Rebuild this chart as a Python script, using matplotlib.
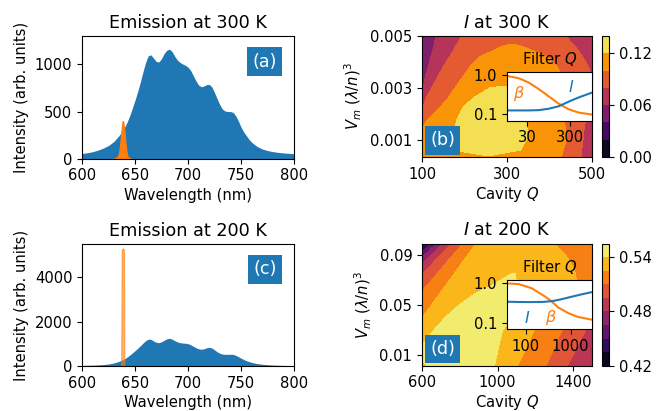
import numpy as np
import matplotlib
matplotlib.use("Agg")
import matplotlib.pyplot as plt
import matplotlib.tri as mtri

plt.rcParams['font.size'] = 10.6
plt.rcParams['font.family'] = ['DejaVu Sans']

BLUE = '#1f77b4'
ORANGE = '#ff7f0e'

# ---------------- emission spectra ----------------
wl = [600, 605, 610, 615, 620, 625, 630, 635, 640, 642.5, 645, 647.5, 650, 652.5,
      655, 657.5, 660, 662.5, 665, 667.5, 670, 672.5, 675, 677.5, 680, 682.5, 685,
      687.5, 690, 692.5, 695, 697.5, 700, 702.5, 705, 707.5, 710, 712.5, 715, 717.5,
      720, 722.5, 725, 727.5, 730, 732.5, 735, 737.5, 740, 742.5, 745, 747.5, 750,
      752.5, 755, 757.5, 760, 765, 770, 775, 780, 785, 790, 795, 800]
em300 = [55, 63, 74, 90, 112, 140, 182, 245, 330, 385, 455, 535, 620, 710,
         810, 920, 1020, 1090, 1100, 1065, 1030, 1025, 1060, 1115, 1150, 1160, 1135,
         1085, 1045, 1020, 1003, 990, 970, 935, 880, 825, 780, 762, 770, 785,
         787, 760, 700, 635, 572, 525, 505, 500, 500, 490, 455, 400, 335,
         285, 245, 205, 175, 130, 103, 86, 75, 67, 61, 57, 53]
em200 = [28, 33, 40, 50, 65, 90, 135, 210, 320, 400, 490, 590, 690, 800,
         910, 1030, 1140, 1210, 1200, 1130, 1070, 1050, 1090, 1160, 1225, 1250, 1210,
         1140, 1085, 1050, 1035, 1025, 1005, 960, 890, 825, 775, 755, 775, 820,
         845, 810, 730, 640, 575, 535, 525, 525, 530, 525, 480, 420, 355,
         295, 240, 200, 165, 110, 78, 58, 45, 35, 28, 22, 18]

filt300_wl = [630, 632, 634, 635, 636, 637, 638, 638.5, 639, 640, 641, 642, 643, 644, 646]
filt300 = [0, 5, 30, 70, 150, 280, 380, 400, 385, 300, 170, 75, 25, 8, 0]
filt200_wl = [637.0, 637.4, 638.5, 639.6, 640.0]
filt200 = [0, 5250, 5300, 5250, 0]

# ---------------- contour maps: digitised (Q, I) samples along rows of V ----------------
V_b = [0.00033, 0.0006, 0.001, 0.0014, 0.0018, 0.0022, 0.0026, 0.003, 0.0034,
       0.0038, 0.0042, 0.0046, 0.005]
rows_b = [
    [(100, 0.104), (255.3, 0.119), (427.8, 0.10), (474.9, 0.08), (500, 0.069)],
    [(100, 0.104), (171.1, 0.12), (255.3, 0.126), (332.3, 0.12), (432.5, 0.10), (475.7, 0.08), (500, 0.070)],
    [(100, 0.103), (170.7, 0.12), (255.3, 0.129), (345.5, 0.12), (439.6, 0.10), (478.8, 0.08), (500, 0.0705)],
    [(100, 0.1015), (175.5, 0.12), (263.1, 0.129), (347.3, 0.12), (437.2, 0.10), (481.3, 0.08), (500, 0.0715)],
    [(100, 0.086), (114.4, 0.10), (183, 0.12), (271, 0.128), (344.4, 0.12), (435.4, 0.10), (485.6, 0.08), (500, 0.075)],
    [(100, 0.079), (100.8, 0.08), (139.5, 0.10), (194.7, 0.12), (278.8, 0.127), (338.2, 0.12), (434.9, 0.10), (493, 0.08), (500, 0.078)],
    [(100, 0.067), (109.6, 0.08), (161.3, 0.10), (219.5, 0.12), (286.7, 0.1245), (330, 0.12), (434.3, 0.10), (500, 0.080)],
    [(100, 0.057), (102.4, 0.06), (122.7, 0.08), (177.8, 0.10), (259.7, 0.12), (290.6, 0.121), (315.5, 0.12), (431.8, 0.10), (500, 0.081)],
    [(100, 0.0555), (107.6, 0.06), (136.2, 0.08), (194.9, 0.10), (294.5, 0.115), (429.1, 0.10), (500, 0.080)],
    [(100, 0.052), (114.7, 0.06), (149.7, 0.08), (212.4, 0.10), (298.4, 0.111), (419, 0.10), (492.2, 0.08), (500, 0.079)],
    [(100, 0.0405), (121.2, 0.06), (164.9, 0.08), (235.8, 0.10), (302.4, 0.107), (394.5, 0.10), (477.9, 0.08), (500, 0.077)],
    [(100, 0.039), (101.5, 0.04), (127.4, 0.06), (179.3, 0.08), (288.5, 0.10), (310.2, 0.1012), (336, 0.10), (460.3, 0.08), (500, 0.074)],
    [(100, 0.0374), (103.8, 0.04), (133.3, 0.06), (193.3, 0.08), (318, 0.096), (437.3, 0.08), (500, 0.072)],
]
levels_b = [0.0, 0.02, 0.04, 0.06, 0.08, 0.10, 0.12, 0.1437]
cticks_b = [0.00, 0.06, 0.12]

V_d = [0.0015, 0.01, 0.02, 0.03, 0.04, 0.05, 0.06, 0.065, 0.07, 0.075, 0.08,
       0.085, 0.09, 0.095, 0.1]
rows_d = [
    [(600, 0.539), (771.9, 0.545), (984.2, 0.54), (1105.3, 0.525), (1256.1, 0.51), (1368.4, 0.495), (1500, 0.481)],
    [(600, 0.5415), (771.9, 0.547), (996.5, 0.54), (1133.3, 0.525), (1282.5, 0.51), (1400, 0.495), (1500, 0.4835)],
    [(600, 0.5395), (610.4, 0.54), (807, 0.549), (1010.5, 0.54), (1163.2, 0.525), (1312.3, 0.51), (1431.6, 0.495), (1500, 0.4885)],
    [(600, 0.5313), (663.2, 0.54), (859.6, 0.55), (1026.3, 0.54), (1194.7, 0.525), (1342.1, 0.51), (1466.7, 0.495), (1500, 0.4925)],
    [(600, 0.5248), (721.9, 0.54), (912.3, 0.55), (1078.9, 0.54), (1245.6, 0.525), (1403.5, 0.51), (1500, 0.499)],
    [(600, 0.5183), (650, 0.525), (796, 0.54), (964.9, 0.548), (1105.3, 0.54), (1298.2, 0.525), (1473.7, 0.51), (1500, 0.5065)],
    [(600, 0.5108), (698.1, 0.525), (890.4, 0.54), (1026.3, 0.545), (1122.8, 0.54), (1377.2, 0.525), (1500, 0.5115)],
    [(600, 0.5057), (623, 0.51), (722.1, 0.525), (963.7, 0.54), (1035, 0.542), (1105.3, 0.54), (1403.5, 0.525), (1500, 0.515)],
    [(600, 0.5001), (651.4, 0.51), (746.1, 0.525), (1105.3, 0.5398), (1417.5, 0.525), (1500, 0.5175)],
    [(600, 0.4938), (604.6, 0.495), (679.6, 0.51), (770.2, 0.525), (1122.8, 0.5395), (1412.3, 0.525), (1500, 0.518)],
    [(600, 0.4852), (635.8, 0.495), (707.9, 0.51), (794.2, 0.525), (1122.8, 0.539), (1400, 0.525), (1500, 0.5185)],
    [(600, 0.4739), (614.9, 0.48), (666.8, 0.495), (736.1, 0.51), (818.2, 0.525), (1114, 0.538), (1382.5, 0.525), (1500, 0.519)],
    [(600, 0.4584), (612.8, 0.465), (648.9, 0.48), (697.9, 0.495), (764.6, 0.51), (842.3, 0.525), (1105.3, 0.537), (1359.6, 0.525), (1500, 0.5175)],
    [(600, 0.4401), (617.7, 0.45), (647.4, 0.465), (682.9, 0.48), (729.1, 0.495), (792.8, 0.51), (866.5, 0.525), (1096.5, 0.536), (1326.3, 0.525), (1500, 0.5165)],
    [(600, 0.425), (623.7, 0.435), (651.9, 0.45), (681.9, 0.465), (716.8, 0.48), (760.2, 0.495), (821.1, 0.51), (890.5, 0.525), (1087.7, 0.535), (1291.2, 0.525), (1500, 0.5155)],
]
levels_d = [0.42, 0.435, 0.45, 0.465, 0.48, 0.495, 0.51, 0.525, 0.54, 0.555]
cticks_d = [0.42, 0.48, 0.54]

# ---------------- inset curves (filter Q) ----------------
fq_b = [10, 19, 32, 55, 95, 164, 282, 485, 1000]
beta_b = [0.97, 0.84, 0.66, 0.45, 0.29, 0.187, 0.134, 0.110, 0.098]
fqI_b = [10, 20, 30, 55, 95, 164, 282, 485, 1000]
Ival_b = [0.125, 0.125, 0.125, 0.127, 0.138, 0.16, 0.21, 0.27, 0.36]

fq_d = [38, 70, 136, 270, 377, 526, 878, 1460, 3000]
beta_d = [1.0, 0.96, 0.75, 0.46, 0.345, 0.243, 0.175, 0.139, 0.118]
fqI_d = [38, 70, 130, 250, 400, 600, 1000, 1700, 3000]
Ival_d = [0.34, 0.335, 0.333, 0.337, 0.355, 0.39, 0.45, 0.52, 0.6]


def samples(V, rows):
    q, v, z = [], [], []
    for vv, row in zip(V, rows):
        for qq, zz in row:
            q.append(qq)
            v.append(vv)
            z.append(zz)
    return np.array(q, float), np.array(v, float), np.array(z, float)


W, H = 666, 411
fig = plt.figure(figsize=(W / 100, H / 100), dpi=100)


def box(l, t, r, b):
    return [l / W, 1 - b / H, (r - l) / W, (b - t) / H]


ax_a = fig.add_axes(box(82, 36, 294, 158.7))
ax_c = fig.add_axes(box(82, 244, 294, 366))
ax_b = fig.add_axes(box(422, 36, 592, 157))
ax_d = fig.add_axes(box(422, 243.7, 592, 365.7))
cax_b = fig.add_axes(box(602, 36, 609, 157))
cax_d = fig.add_axes(box(602, 243.7, 609, 365.7))


def label_box(ax, x, y, s):
    ax.text(x, y, s, transform=ax.transAxes, color='white', fontsize=12.7,
            ha='center', va='center', zorder=10,
            bbox=dict(boxstyle='square,pad=0.3', fc=BLUE, ec='none'))


# spectra
for ax, em, fw, fv, title, ymax, yt, lab, alpha in [
        (ax_a, em300, filt300_wl, filt300, 'Emission at 300 K', 1300, [0, 500, 1000], '(a)', 1.0),
        (ax_c, em200, filt200_wl, filt200, 'Emission at 200 K', 5500, [0, 2000, 4000], '(c)', 0.6)]:
    ax.fill_between(wl, 0, em, color=BLUE, lw=0)
    ax.fill_between(fw, 0, fv, color=ORANGE, lw=0.8, alpha=alpha, edgecolor=ORANGE)
    ax.set_xlim(600, 800)
    ax.set_ylim(0, ymax)
    ax.set_xticks([600, 650, 700, 750, 800])
    ax.set_yticks(yt)
    ax.set_title(title)
    ax.set_xlabel('Wavelength (nm)', labelpad=3)
    ax.set_ylabel('Intensity (arb. units)')
    label_box(ax, 0.862, 0.792, lab)

# contour maps
for ax, cax, Vr, rows, lev, ct, title, xt, yt, xl, yl, lab, fq, beta, fqI, Ival, iq, bpos, ipos, ixt in [
        (ax_b, cax_b, V_b, rows_b, levels_b, cticks_b, '$I$ at 300 K', [100, 300, 500],
         [0.001, 0.003, 0.005], (100, 500), (0.00033, 0.005), '(b)',
         fq_b, beta_b, fqI_b, Ival_b, (10, 1000), (0.136, 0.566), (0.76, 0.69), [30, 300]),
        (ax_d, cax_d, V_d, rows_d, levels_d, cticks_d, '$I$ at 200 K', [600, 1000, 1400],
         [0.01, 0.05, 0.09], (600, 1500), (0.0015, 0.099), '(d)',
         fq_d, beta_d, fqI_d, Ival_d, (38, 3000), (0.517, 0.236), (0.233, 0.236), [100, 1000])]:
    q, v, z = samples(Vr, rows)
    # triangulate in screen-proportional coordinates
    xn = (q - xl[0]) / (xl[1] - xl[0]) * 170.0
    yn = (v - yl[0]) / (yl[1] - yl[0]) * 121.0
    tri_n = mtri.Triangulation(xn, yn)
    tri = mtri.Triangulation(q, v, triangles=tri_n.triangles)
    cs = ax.tricontourf(tri, z, levels=lev, cmap='inferno')
    ax.set_xlim(*xl)
    ax.set_ylim(*yl)
    ax.set_xticks(xt)
    ax.set_yticks(yt)
    ax.set_yticklabels([f'{val:.3f}' if val < 0.01 else f'{val:.2f}' for val in yt])
    ax.set_title(title)
    ax.set_xlabel('Cavity $Q$', labelpad=2)
    ax.set_ylabel(r'$V_m\ (\lambda/n)^3$')
    cb = fig.colorbar(cs, cax=cax, ticks=ct)
    cb.ax.set_yticklabels([f'{val:.2f}' for val in ct])
    label_box(ax, 0.122, 0.138, lab)

    ins = ax.inset_axes([0.5, 0.3, 0.5, 0.4])
    ins.set_facecolor('white')
    ins.plot(fq, beta, color=ORANGE, lw=1.5)
    ins.plot(fqI, Ival, color=BLUE, lw=1.5)
    ins.set_xscale('log')
    ins.set_yscale('log')
    ins.set_xlim(*iq)
    ins.set_ylim(0.068, 1.2)
    ins.set_yticks([0.1, 1.0])
    ins.set_yticklabels(['0.1', '1.0'])
    ins.set_xticks(ixt)
    ins.set_xticklabels([str(val) for val in ixt])
    ins.xaxis.set_minor_locator(matplotlib.ticker.NullLocator())
    ins.yaxis.set_minor_locator(matplotlib.ticker.NullLocator())
    ins.set_title('Filter $Q$', fontsize=10.6)
    ins.text(*bpos, r'$\beta$', color=ORANGE, transform=ins.transAxes,
             ha='center', va='center', fontsize=11.5)
    ins.text(*ipos, '$I$', color=BLUE, transform=ins.transAxes,
             ha='center', va='center', fontsize=11.5)

fig.savefig('out.png', dpi=100)
